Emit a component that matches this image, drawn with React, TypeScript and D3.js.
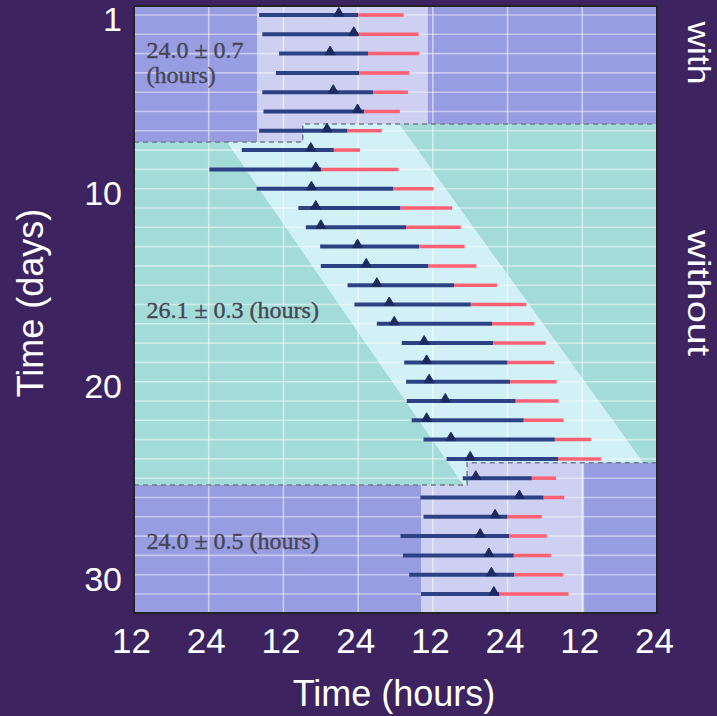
import React from "react";
import * as d3 from "d3";

// hours are counted from midnight of day 0 (12 = noon of day 0, 24 = midnight, ...)
const wakeStart = [32.1, 32.6, 35.3, 34.8, 32.6, 32.8, 32.1, 29.3, 24.1, 31.7, 38.4, 39.6, 41.9, 42.0, 46.3, 47.4, 51.0, 55.0, 55.4, 55.7, 55.8, 56.6, 58.5, 62.2, 64.8, 58.0, 58.5, 54.8, 55.2, 56.2, 58.1];
const sleepStart = [48.0, 48.0, 49.6, 48.2, 50.4, 49.0, 46.3, 44.1, 42.1, 53.6, 54.8, 55.7, 57.8, 59.3, 63.4, 66.1, 69.5, 69.7, 72.0, 72.4, 73.3, 74.6, 79.6, 80.1, 75.9, 77.8, 72.0, 72.3, 73.0, 73.1, 70.7];
const sleepEnd = [55.3, 57.7, 57.8, 56.2, 56.0, 54.7, 51.8, 48.3, 54.5, 60.1, 63.1, 64.5, 65.1, 67.0, 70.3, 75.0, 76.3, 78.1, 79.5, 79.9, 80.2, 81.0, 85.4, 87.0, 79.8, 81.1, 77.5, 78.3, 79.0, 80.9, 81.8];
const tempMin = [44.9, 47.3, 43.5, null, 44.0, 47.9, 43.0, 40.4, 41.2, 40.5, 41.2, 42.0, 47.9, 49.3, 51.0, 53.0, 53.8, 58.6, 59.0, 59.4, 62.0, 59.0, 62.9, 66.0, 66.9, 73.9, 70.0, 67.6, 69.0, 69.4, 69.8];

const xTickHours = [12, 24, 36, 48, 60, 72, 84, 96];
const xTickLabels = ["12", "24", "12", "24", "12", "24", "12", "24"];
const yTickDays = [1, 10, 20, 30];

// phase boundaries (day units) and the hour where the boundary steps
const withEndLeft = 7.58;
const withEndRight = 6.65;
const withStepHour = 39.1;
const withoutEndLeft = 25.35;
const withoutEndRight = 24.2;
const withoutStepHour = 65.5;

// light windows
const topWindow = [31.75, 59.2];
const bottomWindow = [58.1, 84.3];
// free-running band edges [hour, day]
const bandLeft = [[26.9, 7.58], [64.9, 25.35]];
const bandRight = [[54.7, 6.7], [93.8, 24.2]];

const notes = [
  { text: "24.0 ± 0.7", hour: 14, day: 3.25 },
  { text: "(hours)", hour: 14, day: 4.52 },
  { text: "26.1 ± 0.3 (hours)", hour: 14, day: 16.7 },
  { text: "24.0 ± 0.5 (hours)", hour: 14, day: 28.67 },
];

const W = 717, H = 716;
const plot = { left: 134, right: 657, top: 6, bottom: 613 };

export default function App() {
  const x = d3.scaleLinear().domain([12, 96]).range([plot.left, plot.right]);
  const y = d3.scaleLinear().domain([1, 31]).range([15, 594]);
  const dayTop = y.invert(plot.top);
  const dayBottom = y.invert(plot.bottom);
  const line = d3.line<number[]>().x((d) => x(d[0])).y((d) => y(d[1]));
  const poly = (pts: number[][]) => line(pts) + "Z";

  const ext = (e: number[][], day: number) => {
    const [[h0, d0], [h1, d1]] = e;
    return [h0 + ((h1 - h0) / (d1 - d0)) * (day - d0), day];
  };
  const band = [ext(bandLeft, 4), ext(bandRight, 4), ext(bandRight, 28), ext(bandLeft, 28)];

  const topRegion = [[12, dayTop], [96, dayTop], [96, withEndRight], [withStepHour, withEndRight], [withStepHour, withEndLeft], [12, withEndLeft]];
  const topLight = [[topWindow[0], dayTop], [topWindow[1], dayTop], [topWindow[1], withEndRight], [withStepHour, withEndRight], [withStepHour, withEndLeft], [topWindow[0], withEndLeft]];
  const botRegion = [[12, withoutEndLeft], [withoutStepHour, withoutEndLeft], [withoutStepHour, withoutEndRight], [96, withoutEndRight], [96, dayBottom], [12, dayBottom]];
  const botLight = [[bottomWindow[0], withoutEndLeft], [withoutStepHour, withoutEndLeft], [withoutStepHour, withoutEndRight], [bottomWindow[1], withoutEndRight], [bottomWindow[1], dayBottom], [bottomWindow[0], dayBottom]];

  const dashed = [
    [[12, withEndLeft], [withStepHour, withEndLeft], [withStepHour, withEndRight], [96, withEndRight]],
    [[12, withoutEndLeft], [withoutStepHour, withoutEndLeft], [withoutStepHour, withoutEndRight], [96, withoutEndRight]],
  ];

  const days = wakeStart.map((_, i) => i + 1);

  return (
    <svg width={W} height={H} style={{ position: "absolute", left: 0, top: 0 }}>
      <rect width={W} height={H} fill="#3d2460" />
      <defs>
        <clipPath id="plotClip">
          <rect x={plot.left} y={plot.top} width={plot.right - plot.left} height={plot.bottom - plot.top} />
        </clipPath>
      </defs>
      <g clipPath="url(#plotClip)">
        <rect x={plot.left} y={plot.top} width={plot.right - plot.left} height={plot.bottom - plot.top} fill="#a3dbd8" />
        <path d={poly(band)} fill="#d2f1f6" />
        <path d={poly(topRegion)} fill="#989ce0" />
        <path d={poly(topLight)} fill="#cdd0f0" />
        <path d={poly(botRegion)} fill="#989ce0" />
        <path d={poly(botLight)} fill="#cdd0f0" />

        {/* grid */}
        {days.map((d) => (
          <line key={"h" + d} x1={plot.left} x2={plot.right} y1={y(d)} y2={y(d)} stroke="#fff" strokeOpacity={0.45} strokeWidth={1.6} />
        ))}
        {xTickHours.slice(1, -1).map((h) => (
          <line key={"v" + h} x1={x(h)} x2={x(h)} y1={plot.top} y2={plot.bottom} stroke="#fff" strokeOpacity={0.5} strokeWidth={1.6} />
        ))}

        {dashed.map((pts, i) => (
          <path key={"d" + i} d={line(pts) || ""} fill="none" stroke="#6f7d8c" strokeWidth={1.5} strokeDasharray="5 4" />
        ))}

        {/* wake / sleep bars */}
        {days.map((d, i) => (
          <g key={"b" + d}>
            <line x1={x(wakeStart[i])} x2={x(sleepStart[i])} y1={y(d)} y2={y(d)} stroke="#2c4285" strokeWidth={4} />
            <line x1={x(sleepStart[i])} x2={x(sleepEnd[i])} y1={y(d)} y2={y(d)} stroke="#ff6173" strokeWidth={3.5} />
            {tempMin[i] != null && (
              <path
                d={`M${x(tempMin[i] as number) - 5},${y(d) + 1} L${x(tempMin[i] as number)},${y(d) - 7.5} L${x(tempMin[i] as number) + 5},${y(d) + 1}Z`}
                fill="#1b2b60"
                stroke="#1b2b60"
                strokeWidth={1}
                strokeLinejoin="round"
              />
            )}
          </g>
        ))}

        {notes.map((n) => (
          <text key={n.text} x={x(n.hour)} y={y(n.day)} fontFamily="'Liberation Serif', serif" fontSize={24} fill="#454553" stroke="#454553" strokeWidth={0.35}>
            {n.text}
          </text>
        ))}
      </g>
      <rect x={plot.left} y={plot.top} width={plot.right - plot.left} height={plot.bottom - plot.top} fill="none" stroke="#242424" strokeWidth={2} />

      {/* axes */}
      <g fontFamily="'Liberation Sans', Arial, sans-serif" fill="#fff">
        {xTickHours.map((h, i) => (
          <text key={"xt" + i} x={x(h) - 2.5} y={653} fontSize={35} textAnchor="middle">
            {xTickLabels[i]}
          </text>
        ))}
        {yTickDays.map((d) => (
          <text key={"yt" + d} x={122} y={y(d) + 16} fontSize={34} textAnchor="end">
            {d}
          </text>
        ))}
        <text x={394} y={706} fontSize={36} textAnchor="middle">Time (hours)</text>
        <text transform="translate(43,303) rotate(-90)" fontSize={36} textAnchor="middle">Time (days)</text>
        <text transform="translate(688,53) rotate(90)" fontSize={32} textAnchor="middle" textLength={63} lengthAdjust="spacingAndGlyphs">with</text>
        <text transform="translate(688,293) rotate(90)" fontSize={32} textAnchor="middle" textLength={126} lengthAdjust="spacingAndGlyphs">without</text>
      </g>
    </svg>
  );
}
